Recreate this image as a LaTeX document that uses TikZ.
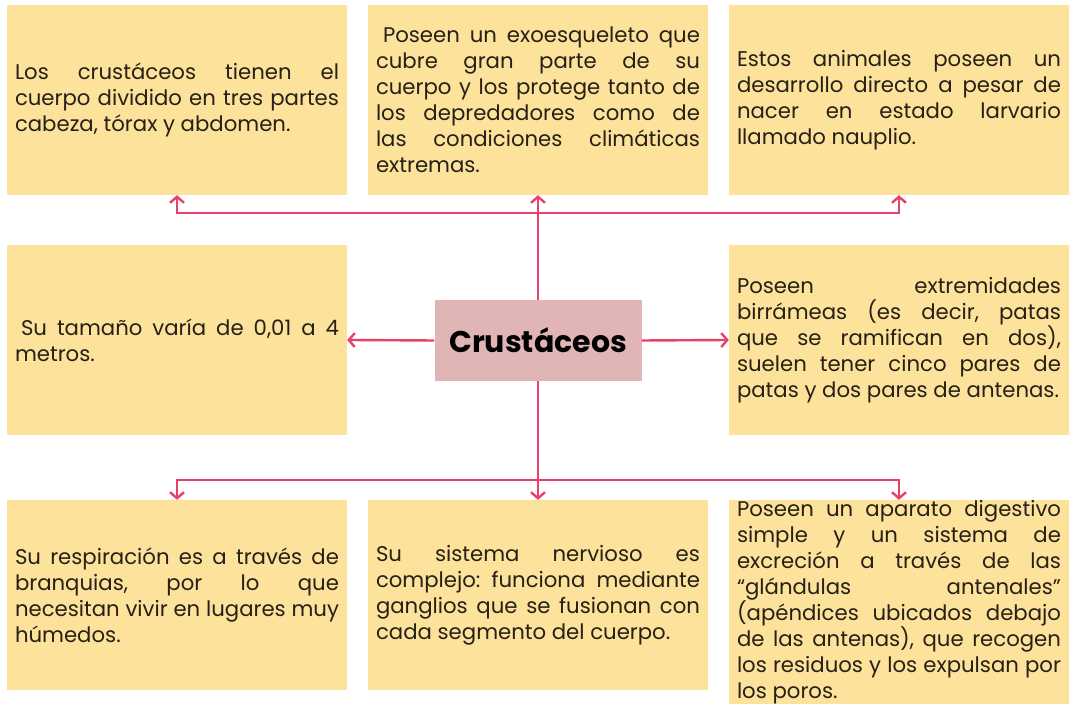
\documentclass[tikz,border=0pt]{standalone}
\usepackage{fontspec}
\setmainfont{Poppins}
\usetikzlibrary{arrows.meta}
\definecolor{boxY}{RGB}{253,226,155}
\definecolor{boxC}{RGB}{225,181,181}
\definecolor{conn}{RGB}{232,64,105}
\definecolor{txt}{RGB}{38,32,22}
\newlength\refw
\newcommand\jl[1]{\makebox[324pt][s]{\spaceskip=0pt\xspaceskip=0pt\relax #1}\\}
\newcommand\lastl[1]{\mbox{\spaceskip=0pt\xspaceskip=0pt\relax #1}}
\begin{document}
\frenchspacing
\settowidth\refw{\fontsize{10pt}{12pt}\selectfont patas y dos pares de antenas.}%
\pgfmathsetmacro\fs{10*322/\refw}%
\begin{tikzpicture}[x=1pt,y=1pt]
\tikzset{
  ybox/.style={fill=boxY, minimum width=340pt, minimum height=190pt, inner sep=0pt,
    text width=324pt, align=left, text=txt, font=\fontsize{\fs pt}{26pt}\selectfont},
  cbox/.style={fill=boxC, minimum width=207pt, minimum height=81pt, inner sep=0pt,
    text=black, font=\fontsize{30pt}{34pt}\selectfont\bfseries},
  link/.style={draw=conn, line width=2.4pt},
  arr/.style={link, -{Straight Barb[length=6pt,width=14pt]}}
}
\fill[white] (0,0) rectangle (1070,704);
\useasboundingbox (0,0) rectangle (1070,704);

\node[ybox] (tl) at (177,604) {\jl{Los crustáceos tienen el}\jl{cuerpo dividido en tres partes}\lastl{cabeza, tórax y abdomen.}};
\node[ybox] (tm) at (538,604) {\jl{\hspace*{7pt}Poseen un exoesqueleto que}\jl{cubre gran parte de su}\jl{cuerpo y los protege tanto de}\jl{los depredadores como de}\jl{las condiciones climáticas}\lastl{extremas.}};
\node[ybox] (tr) at (899,604) {\jl{Estos animales poseen un}\jl{desarrollo directo a pesar de}\jl{nacer en estado larvario}\lastl{llamado nauplio.}};

\node[ybox] (ml) at (177,364) {\jl{\hspace*{6pt}Su tamaño varía de 0,01 a 4}\lastl{metros.}};
\node[cbox] (c) at (538,363.5) {Crustáceos};
\node[ybox] (mr) at (899,364) {\jl{Poseen extremidades}\jl{birrámeas (es decir, patas}\jl{que se ramifican en dos),}\jl{suelen tener cinco pares de}\lastl{patas y dos pares de antenas.}};

\node[ybox] (bl) at (177,109) {\jl{Su respiración es a través de}\jl{branquias, por lo que}\jl{necesitan vivir en lugares muy}\lastl{húmedos.}};
\node[ybox] (bm) at (538,109) {\jl{Su sistema nervioso es}\jl{complejo: funciona mediante}\jl{ganglios que se fusionan con}\lastl{cada segmento del cuerpo.}};
\node[ybox, minimum height=204pt] (br) at (899,102) {\jl{Poseen un aparato digestivo}\jl{simple y un sistema de}\jl{excreción a través de las}\jl{“glándulas antenales”}\jl{(apéndices ubicados debajo}\jl{de las antenas), que recogen}\jl{los residuos y los expulsan por}\lastl{los poros.}};

\coordinate (tj) at (538,491);
\coordinate (bj) at (538,224);

\draw[link] (c.north) -- (tj);
\draw[arr] (tj) -- (tm.south);
\draw[arr] (tj) -| (tl.south);
\draw[arr] (tj) -| (tr.south);
\draw[arr] (c.west) -- (ml.east);
\draw[arr] (c.east) -- (mr.west);
\draw[link] (c.south) -- (bj);
\draw[arr] (bj) -- (bm.north);
\draw[arr] (bj) -| (bl.north);
\draw[arr] (bj) -| (br.north);
\end{tikzpicture}
\end{document}
